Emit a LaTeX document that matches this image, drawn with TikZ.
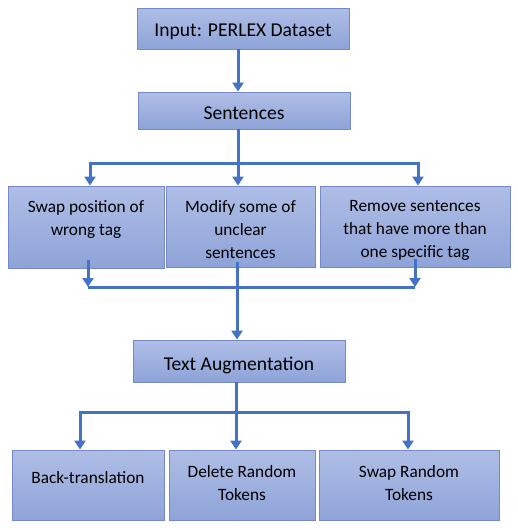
\documentclass[tikz,border=0pt]{standalone}
\usepackage{fontspec}
\setmainfont{Carlito}
\usetikzlibrary{positioning,arrows.meta,calc}

\definecolor{boxtop}{HTML}{AFBEE6}
\definecolor{boxbot}{HTML}{8EA3D8}
\definecolor{boxline}{HTML}{7489C6}
\definecolor{flowblue}{HTML}{4472C4}

\tikzset{
  stage/.style={draw=boxline, line width=0.8pt, top color=boxtop, bottom color=boxbot, inner sep=0pt},
  caption/.style={align=center, inner sep=0pt, font=\fontsize{19.6}{23}\selectfont},
  small caption/.style={caption, font=\fontsize{17.3}{23}\selectfont},
  flow/.style={draw=flowblue, line width=3pt},
  tip/.style={flow, -{Triangle[length=9pt,width=11pt]}}
}

\begin{document}
\begin{tikzpicture}[x=1pt, y=-1pt]
  \useasboundingbox (0,0) rectangle (518,530);
  % stages
  \node[stage, minimum width=212pt, minimum height=41pt,
    label={[caption, yshift=-3pt]center:Input: PERLEX Dataset}] (input) at (243,28.5) {};
  \node[stage, minimum width=212pt, minimum height=37pt,
    label={[caption, yshift=-3pt]center:Sentences}] (sent) at (244,110.5) {};
  \node[stage, minimum width=156pt, minimum height=82pt,
    label={[small caption, yshift=7pt]center:{Swap position of\\wrong tag}}] (swap) at (86,227) {};
  \node[stage, minimum width=149pt, minimum height=81pt,
    label={[small caption, yshift=-3pt]center:{Modify some of\\unclear\\sentences}}] (modify) at (240.5,226.5) {};
  \node[stage, minimum width=190pt, minimum height=81pt,
    label={[small caption, yshift=-4pt]center:{Remove sentences\\that have more than\\one specific tag}}] (remove) at (415,226.5) {};
  \node[stage, minimum width=212pt, minimum height=42pt,
    label={[caption, yshift=-4pt]center:Text Augmentation}] (aug) at (239,361) {};
  \node[stage, minimum width=152pt, minimum height=70pt,
    label={[small caption, yshift=7pt]center:Back-translation}] (back) at (88,485) {};
  \node[stage, minimum width=146pt, minimum height=70pt,
    label={[small caption, yshift=1.5pt]center:{Delete Random\\Tokens}}] (delete) at (242,485) {};
  \node[stage, minimum width=180pt, minimum height=70pt,
    label={[small caption, yshift=1.5pt]center:{Swap Random\\Tokens}}] (swaprand) at (409,485) {};

  % junctions
  \coordinate (split) at (238,163);
  \coordinate (merge) at (237,287);
  \coordinate (fork) at (236,412);

  % input to sentences
  \draw[tip] (input.south -| split) -- (sent.north -| split);
  % sentences to the three fixes
  \draw[flow] (sent.south -| split) -- (split);
  \draw[flow] ($(split)+(-149.5,0)$) -- ($(split)+(181.5,0)$);
  \draw[tip] ($(split)+(-148,0)$) -- (swap.north -| 90,0);
  \draw[tip] (split) -- (modify.north -| split);
  \draw[tip] ($(split)+(180,0)$) -- (remove.north -| 418,0);
  % fixes back together
  \draw[flow] ($(merge)+(-149,0)$) -- ($(merge)+(178,0)$);
  \draw[tip] ($(swap.south -| 88,0)+(0,-8)$) -- ($(merge)+(-149,0)$);
  \draw[tip] ($(remove.south -| 415,0)+(0,-8)$) -- ($(merge)+(178,0)$);
  \draw[tip] ($(modify.south -| merge)+(0,-5)$) -- (aug.north -| merge);
  % augmentation to the three methods
  \draw[flow] (aug.south -| fork) -- (fork);
  \draw[flow] ($(fork)+(-157.5,0)$) -- ($(fork)+(173.5,0)$);
  \draw[tip] ($(fork)+(-156,0)$) -- (back.north -| 80,0);
  \draw[tip] (fork) -- (delete.north -| fork);
  \draw[tip] ($(fork)+(172,0)$) -- (swaprand.north -| 408,0);
\end{tikzpicture}
\end{document}
